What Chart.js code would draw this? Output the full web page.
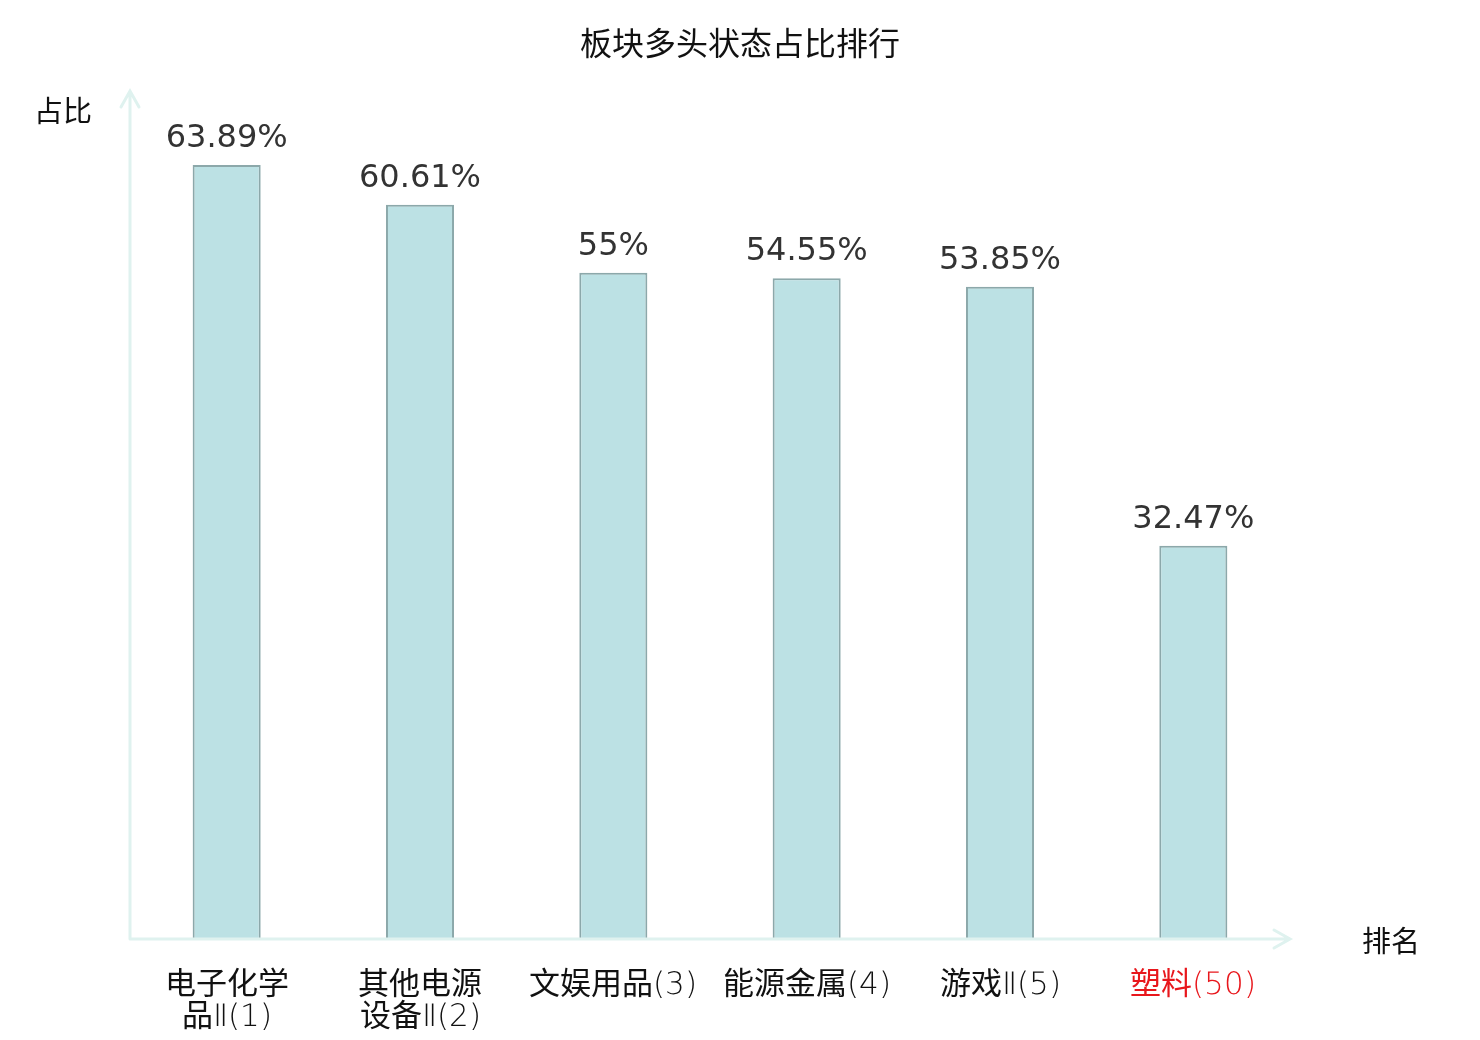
<!DOCTYPE html>
<html>
<head>
<meta charset="utf-8">
<style>
@font-face {
  font-family: "TickMix";
  src: local("DejaVu Sans ExtraLight"), local("DejaVuSans-ExtraLight");
  unicode-range: U+0020-00FF, U+2160-216F;
}
@font-face {
  font-family: "TickMix";
  src: local("Noto Sans CJK SC"), local("Noto Sans CJK SC Regular"), local("NotoSansCJKsc-Regular");
  unicode-range: U+2E80-9FFF, U+F900-FFEF;
}
html,body{margin:0;padding:0;background:#fff;}
#wrap{width:1480px;height:1040px;position:relative;}
</style>
<script src="https://cdn.jsdelivr.net/npm/chart.js@4/dist/chart.umd.min.js"></script>
</head>
<body>
<div id="wrap"><canvas id="c" width="1480" height="1040"></canvas></div>
<script>
const categories = [["电子化学","品Ⅱ(1)"],["其他电源","设备Ⅱ(2)"],"文娱用品(3)","能源金属(4)","游戏Ⅱ(5)","塑料(50)"];
const values = [63.89, 60.61, 55, 54.55, 53.85, 32.47];
const valueLabels = ["63.89%","60.61%","55%","54.55%","53.85%","32.47%"];
const tickColors = ["#111","#111","#111","#111","#111","#e8171c"];
const titleText = '板块多头状态占比排行';

const CJK = '"Noto Sans CJK SC", "DejaVu Sans", sans-serif';
const AXIS = '#dff2ef';

const deco = {
  id: 'deco',
  afterDatasetsDraw(chart) {
    const ctx = chart.ctx;
    const x = chart.scales.x, y = chart.scales.y;
    const left = x.left, bottom = y.getPixelForValue(0);
    const top = y.getPixelForValue(70), right = x.right;
    ctx.save();
    // title
    ctx.font = '32px ' + CJK;
    ctx.fillStyle = '#111';
    ctx.textAlign = 'center';
    ctx.textBaseline = 'middle';
    ctx.fillText(titleText, chart.width / 2, 43);
    // value labels
    ctx.font = '32px "DejaVu Sans", sans-serif';
    ctx.fillStyle = '#333';
    ctx.textBaseline = 'alphabetic';
    chart.getDatasetMeta(0).data.forEach((bar, i) => {
      ctx.fillText(valueLabels[i], bar.x, bar.y - 18);
    });
    // axes with arrows
    ctx.strokeStyle = AXIS;
    ctx.lineWidth = 3;
    ctx.lineCap = 'round';
    ctx.beginPath();
    ctx.moveTo(left, bottom); ctx.lineTo(left, top);
    ctx.moveTo(left - 9, top + 16); ctx.lineTo(left, top); ctx.lineTo(left + 9, top + 16);
    ctx.moveTo(left, bottom); ctx.lineTo(right, bottom);
    ctx.moveTo(right - 16, bottom - 9); ctx.lineTo(right, bottom); ctx.lineTo(right - 16, bottom + 9);
    ctx.stroke();
    // axis names
    ctx.font = '29px ' + CJK;
    ctx.fillStyle = '#111';
    ctx.textBaseline = 'middle';
    ctx.fillText('占比', left - 67, top + 20);
    ctx.fillText('排名', right + 101, bottom + 2);
    ctx.restore();
  }
};

function build() {
  new Chart(document.getElementById('c'), {
    type: 'bar',
    data: {
      labels: categories,
      datasets: [{
        data: values,
        backgroundColor: '#bce1e4',
        borderColor: '#8ca8aa',
        borderWidth: 2,
        barPercentage: 0.352,
        categoryPercentage: 1
      }]
    },
    options: {
      responsive: false,
      animation: false,
      devicePixelRatio: 1,
      layout: { padding: { left: 130, right: 190, top: 91, bottom: 0 } },
      plugins: {
        legend: { display: false },
        tooltip: { enabled: false },
        title: { display: false }
      },
      scales: {
        y: { display: false, min: 0, max: 70 },
        x: {
          grid: { display: false },
          border: { display: false },
          ticks: {
            maxRotation: 0,
            autoSkip: false,
            padding: 23,
            color: (c) => tickColors[c.index],
            font: { family: '"TickMix", "Noto Sans CJK SC", "DejaVu Sans", sans-serif', weight: 'normal', size: 31, lineHeight: 1.03 }
          },
          afterFit(scale) { scale.height = 101; }
        }
      }
    },
    plugins: [deco]
  });
}

Promise.all([
  document.fonts.load('31px "TickMix"', '电Ⅱ(1)'),
  document.fonts.load('32px "Noto Sans CJK SC"', '板块'),
  document.fonts.load('32px "DejaVu Sans"', '63.89%')
]).then(build, build);
</script>
</body>
</html>
